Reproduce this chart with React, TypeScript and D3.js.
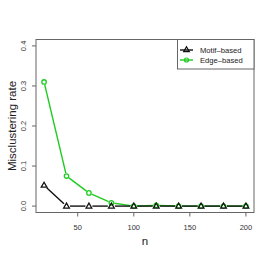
import React from 'react';
import * as d3 from 'd3';

const W = 273;
const H = 262;
const margin = { top: 39.5, right: 19, bottom: 49.5, left: 36 };

const nValues = [20, 40, 60, 80, 100, 120, 140, 160, 180, 200];
const motifRate = [0.052, 0, 0, 0, 0, 0, 0, 0, 0, 0];
const edgeRate = [0.31, 0.075, 0.033, 0.008, 0, 0.002, 0, 0, 0, 0];
const xTicks = [50, 100, 150, 200];
const yTicks = [0, 0.1, 0.2, 0.3, 0.4];
const legendLabels = ['Motif\u2013based', 'Edge\u2013based'];

const green = '#1ecb1e';
const font = 'Liberation Sans, Arial, sans-serif';

const x = d3.scaleLinear()
    .domain([20 - 7.2, 200 + 7.2])
    .range([margin.left, W - margin.right]);
const y = d3.scaleLinear()
    .domain([-0.016, 0.416])
    .range([H - margin.bottom, margin.top]);

// lines with gaps around the points, like R's type = "b"
function gappedSegments(vals: number[], gap: number) {
    const segs = [];
    for (let i = 0; i < vals.length - 1; i++) {
        const x1 = x(nValues[i]), y1 = y(vals[i]);
        const x2 = x(nValues[i + 1]), y2 = y(vals[i + 1]);
        const len = Math.hypot(x2 - x1, y2 - y1);
        if (len <= gap * 2) continue;
        const ux = (x2 - x1) / len, uy = (y2 - y1) / len;
        segs.push({ x1: x1 + ux * gap, y1: y1 + uy * gap, x2: x2 - ux * gap, y2: y2 - uy * gap });
    }
    return segs;
}

const triangle = d3.symbol().type(d3.symbolTriangle).size(14)();

export default function App() {
    const plotLeft = margin.left;
    const plotRight = W - margin.right;
    const plotTop = margin.top;
    const plotBottom = H - margin.bottom;
    const legX = 177.5;
    const legBottom = 69;

    return (
        <svg width={W} height={H} style={{ position: 'absolute', left: 0, top: 0 }} fontFamily={font}>
            <rect width={W} height={H} fill="#fff" />

            {/* edge-based series first, motif drawn on top */}
            {gappedSegments(edgeRate, 3).map((s, i) => (
                <line key={'e' + i} {...s} stroke={green} strokeWidth={1.4} />
            ))}
            {edgeRate.map((v, i) => (
                <circle key={'ec' + i} cx={x(nValues[i])} cy={y(v)} r={2.2} fill="none" stroke={green} strokeWidth={1.3} />
            ))}
            {gappedSegments(motifRate, 3.5).map((s, i) => (
                <line key={'m' + i} {...s} stroke="#111" strokeWidth={1.4} />
            ))}
            {motifRate.map((v, i) => (
                <path key={'mt' + i} d={triangle!} transform={`translate(${x(nValues[i])},${y(v) + 0.3})`}
                    fill="none" stroke="#111" strokeWidth={1.3} />
            ))}

            {/* box */}
            <rect x={plotLeft} y={plotTop} width={plotRight - plotLeft} height={plotBottom - plotTop}
                fill="none" stroke="#666" strokeWidth={1} />

            {/* x axis */}
            <line x1={x(xTicks[0])} x2={x(xTicks[xTicks.length - 1])} y1={plotBottom} y2={plotBottom} stroke="#666" />
            {xTicks.map(t => (
                <g key={'xt' + t}>
                    <line x1={x(t)} x2={x(t)} y1={plotBottom} y2={plotBottom + 4} stroke="#666" />
                    <text x={x(t)} y={plotBottom + 17} fontSize={7.5} textAnchor="middle" fill="#333">{t}</text>
                </g>
            ))}
            <text x={(plotLeft + plotRight) / 2} y={245} fontSize={11.5} textAnchor="middle" fill="#222">n</text>

            {/* y axis */}
            {yTicks.map(t => (
                <g key={'yt' + t}>
                    <line x1={plotLeft - 4} x2={plotLeft} y1={y(t)} y2={y(t)} stroke="#666" />
                    <text transform={`translate(${plotLeft - 10},${y(t)}) rotate(-90)`} fontSize={7.5}
                        textAnchor="middle" fill="#333">{t.toFixed(1)}</text>
                </g>
            ))}
            <text transform={`translate(16,${(plotTop + plotBottom) / 2}) rotate(-90)`} fontSize={11.5}
                textAnchor="middle" fill="#222">Misclustering rate</text>

            {/* legend */}
            <rect x={legX} y={plotTop} width={plotRight - legX} height={legBottom - plotTop}
                fill="#fff" stroke="#666" strokeWidth={1} />
            {legendLabels.map((lab, i) => {
                const ly = 50 + i * 10;
                const col = i === 0 ? '#111' : green;
                return (
                    <g key={lab}>
                        <line x1={180} x2={193} y1={ly} y2={ly} stroke={col} strokeWidth={1.4} />
                        {i === 0
                            ? <path d={triangle!} transform={`translate(186.5,${ly})`} fill="none" stroke={col} strokeWidth={1.2} />
                            : <circle cx={186.5} cy={ly} r={2} fill="none" stroke={col} strokeWidth={1.2} />}
                        <text x={200} y={ly + 2.7} fontSize={7.6} fill="#222">{lab}</text>
                    </g>
                );
            })}
        </svg>
    );
}
